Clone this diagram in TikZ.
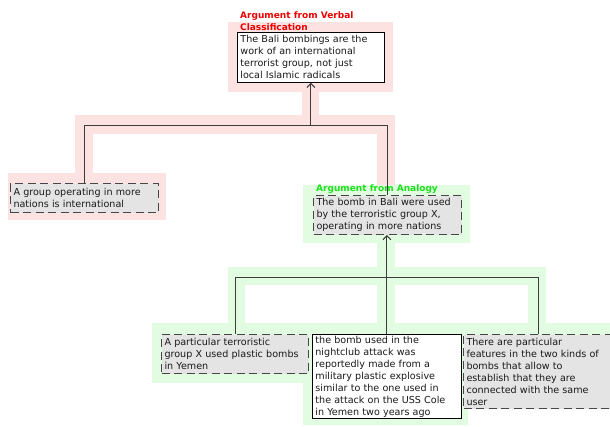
\documentclass[tikz,border=0pt]{standalone}
\usepackage{fontspec}
\setmainfont{DejaVu Sans}
\usetikzlibrary{arrows.meta}
\definecolor{pinkc}{RGB}{253,226,226}
\definecolor{greenc}{RGB}{226,252,226}
\definecolor{boxgray}{RGB}{228,228,228}
\definecolor{dashc}{RGB}{70,70,70}
\definecolor{textc}{RGB}{25,25,25}
\definecolor{connc}{RGB}{60,60,60}
\definecolor{redt}{RGB}{235,0,0}
\definecolor{greent}{RGB}{30,225,30}
\newcommand{\bodyfnt}{\fontsize{9.6}{12}\selectfont}
\newcommand{\titlefnt}{\fontsize{9}{11.5}\selectfont\bfseries}
\tikzset{
  txt/.style={font=\bodyfnt, text=textc, align=left, anchor=north west, inner xsep=3pt, inner ysep=0pt},
  solidbox/.style={txt, draw=black, fill=white, line width=0.8pt},
  dashbox/.style={txt, draw=dashc, fill=boxgray, line width=1pt, dash pattern=on 8pt off 4.5pt},
  ttl/.style={font=\titlefnt, align=left, anchor=south west, inner xsep=3pt, inner ysep=0pt, yshift=1.5pt},
  conn/.style={draw=connc, line width=1pt},
  arr/.style={conn, -{Straight Barb[length=4pt,width=8pt]}},
  pinkband/.style={fill=pinkc},
  greenband/.style={fill=greenc},
}
\begin{document}
\begin{tikzpicture}[x=1pt,y=-1pt]
\useasboundingbox (0,0) rectangle (610,426);
\fill[white] (0,0) rectangle (610,426);
% pink bands
\fill[pinkband] (228,22) rectangle (393,92);
\fill[pinkband] (302,92) rectangle (319,116);
\fill[pinkband] (75,115) rectangle (395,134);
\fill[pinkband] (75,115) rectangle (93,174);
\fill[pinkband] (8,173) rectangle (166,220);
\fill[pinkband] (377,115) rectangle (395,186);
% green bands
\fill[greenband] (303,185) rectangle (470,243);
\fill[greenband] (377,243) rectangle (395,268);
\fill[greenband] (228,267) rectangle (546,285);
\fill[greenband] (228,267) rectangle (245,324);
\fill[greenband] (377,267) rectangle (395,324);
\fill[greenband] (528,267) rectangle (546,324);
\fill[greenband] (152,323) rectangle (610,383);
\fill[greenband] (303,383) rectangle (468,425);
% nodes
\node[solidbox, text width=141pt, minimum height=50pt] (top) at (237,32)
  {The Bali bombings are the\\work of an international\\terrorist group, not just\\local Islamic radicals};
\node[ttl, text=redt] (ttop) at (top.north west) {Argument from Verbal\\Classification};
\node[dashbox, text width=142pt, minimum height=29pt] (gl) at (10,183)
  {A group operating in more\\nations is international};
\node[dashbox, text width=142pt, minimum height=39pt] (an) at (313,195)
  {The bomb in Bali were used\\by the terroristic group X,\\operating in more nations};
\node[ttl, text=greent] (tan) at (an.north west) {Argument from Analogy};
\node[dashbox, text width=141pt, minimum height=39pt] (b1) at (161,334)
  {A particular terroristic\\group X used plastic bombs\\in Yemen};
\node[solidbox, text width=143pt, minimum height=84pt] (b2) at (312,334)
  {the bomb used in the\\nightclub attack was\\reportedly made from a\\military plastic explosive\\similar to the one used in\\the attack on the USS Cole\\in Yemen two years ago};
\node[dashbox, text width=144pt, minimum height=74pt] (b3) at (463,334)
  {There are particular\\features in the two kinds of\\bombs that allow to\\establish that they are\\connected with the same\\user};
% connectors
\coordinate (j1) at (top.south |- 0,125);
\coordinate (j2) at (b2.north |- 0,277);
\coordinate (a2) at (j2 |- an.south);
\draw[conn] (gl.north) |- (j1);
\draw[conn] (an.north) |- (j1);
\draw[arr] (j1) -- (top.south);
\draw[conn] (b1.north) |- (j2);
\draw[conn] (b3.north) |- (j2);
\draw[conn] (b2.north) -- (j2);
\draw[arr] (j2) -- (a2);
\end{tikzpicture}
\end{document}
